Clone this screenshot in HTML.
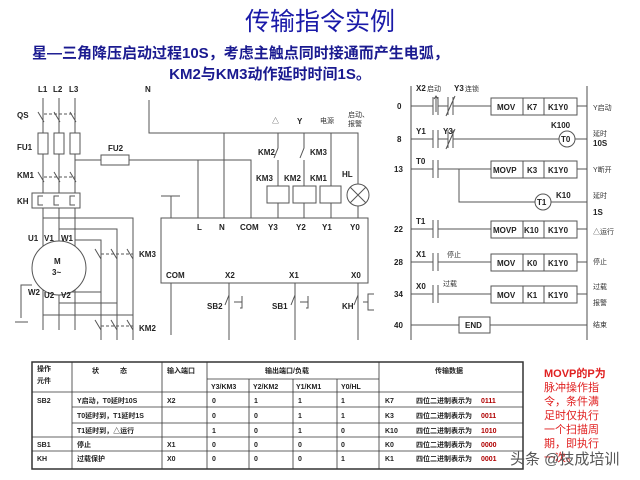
<!DOCTYPE html>
<html><head><meta charset="utf-8"><style>
html,body{margin:0;padding:0;background:#fff;}
svg{display:block;}
text{font-family:"Liberation Sans","Noto Sans CJK SC",sans-serif;}
</style></head><body>
<svg width="640" height="480" viewBox="0 0 640 480" xmlns="http://www.w3.org/2000/svg">
<rect width="640" height="480" fill="#fff"/>
<text x="320" y="30" font-size="25" fill="#1a1aa8" text-anchor="middle" font-family="Noto Serif CJK SC, serif">传输指令实例</text>
<text x="32" y="58" font-size="15" font-weight="bold" fill="#1a1a90">星—三角降压启动过程10S，考虑主触点同时接通而产生电弧，</text>
<text x="270" y="79" font-size="15" font-weight="bold" fill="#1a1a90" text-anchor="middle">KM2与KM3动作延时时间1S。</text>

<g stroke="#555" stroke-width="1" fill="none">
<path d="M43 98V330 M59 98V330 M75 98V330"/>
<path d="M38 112l6 10 M54 112l6 10 M70 112l6 10" />
<path d="M44 114H75" stroke-dasharray="3,2"/>
<rect x="38" y="133" width="10" height="21" fill="#fff"/>
<rect x="54" y="133" width="10" height="21" fill="#fff"/>
<rect x="70" y="133" width="10" height="21" fill="#fff"/>
<path d="M38 172l6 10 M54 172l6 10 M70 172l6 10"/>
<path d="M44 177H75" stroke-dasharray="3,2"/>
<rect x="32" y="193" width="48" height="15" fill="#fff"/>
<path d="M43 196h-5v9h5 M59 196h-5v9h5 M75 196h-5v9h5"/>
<path d="M149 100V133H358V184 M224 133V218 M331 133V186"/>
<path d="M75 160H251V218 M198 160V218"/>
<rect x="101" y="155" width="28" height="10" fill="#fff"/>
<path d="M161 196H180 M171 196V225 M165 225H177"/>
<path d="M43 218H133V340 M59 229H117V340 M75 240H101V340"/>
<path d="M95 249l6 10 M111 249l6 10 M127 249l6 10"/>
<path d="M101 254H133" stroke-dasharray="3,2"/>
<path d="M70 292H101 M59 303H117 M43 315H133" />
<path d="M95 320l6 10 M111 320l6 10 M127 320l6 10"/>
<path d="M101 326H133" stroke-dasharray="3,2"/>
<circle cx="59" cy="268" r="27" fill="#fff"/>
<path d="M32 285H21V318 M15 322H28"/>
<rect x="161" y="218" width="207" height="65" fill="#fff"/>
<path d="M171 283V335 M229 283V340 M295 283V340 M358 283V340"/>
<path d="M229 295l-4 10 M295 295l-4 10 M358 295l-4 10"/>
<path d="M234 302h8v-6 M242 302v6h-2 M300 302h8v-6 M308 302v6h-2"/>
<path d="M363 302h5v-8h6 M368 302v8h6"/>
<path d="M278 133V148l-4 10 M278 160V186 M304 133V148l-4 10 M304 160V186 M278 203V218 M304 203V218 M331 203V218 M358 206V218"/>
<rect x="267" y="186" width="22" height="17" fill="#fff"/>
<rect x="293" y="186" width="23" height="17" fill="#fff"/>
<rect x="320" y="186" width="21" height="17" fill="#fff"/>
<circle cx="358" cy="195" r="11" fill="#fff"/>
<path d="M350 187l16 16 M366 187l-16 16"/>
<path d="M411 86V340 M587 86V340" stroke="#888" stroke-width="1.5"/>
<path d="M411 106H433 M438 106H448 M453 106H491 M577 106H587 M411 139H433 M438 139H448 M453 139H560 M574 139H587 M411 169H433 M438 169H491 M577 169H587 M459 169V202H536 M550 202H587 M411 229H433 M438 229H491 M577 229H587 M411 262H433 M438 262H491 M577 262H587 M411 294H433 M438 294H491 M577 294H587 M411 325H459 M490 325H587"/>
<path d="M433 97V115 M438 97V115 M448 97V115 M453 97V115 M433 130V148 M438 130V148 M448 130V148 M453 130V148 M433 160V178 M438 160V178 M433 220V238 M438 220V238 M433 253V271 M438 253V271 M433 285V303 M438 285V303"/>
<path d="M446 116l9 -20 M446 149l9 -20 M436 112V96 M434 99l2-3 2 3"/>
<circle cx="567" cy="139" r="8" fill="#fff"/>
<circle cx="543" cy="202" r="8" fill="#fff"/>
<rect x="459" y="317" width="31" height="16" fill="#fff"/>
</g>
<g stroke="#555" stroke-width="1" fill="#fff">
<rect x="491" y="98" width="86" height="17"/><path d="M523 98V115 M544 98V115"/>
<rect x="491" y="161" width="86" height="17"/><path d="M523 161V178 M544 161V178"/>
<rect x="491" y="221" width="86" height="17"/><path d="M523 221V238 M544 221V238"/>
<rect x="491" y="254" width="86" height="17"/><path d="M523 254V271 M544 254V271"/>
<rect x="491" y="286" width="86" height="17"/><path d="M523 286V303 M544 286V303"/>
</g>
<g font-size="8" font-weight="bold" fill="#222">
<text x="38" y="92">L1</text><text x="53" y="92">L2</text><text x="69" y="92">L3</text><text x="145" y="92">N</text>
<text x="17" y="118">QS</text><text x="17" y="150">FU1</text><text x="17" y="178">KM1</text><text x="17" y="204">KH</text>
<text x="108" y="151">FU2</text>
<text x="28" y="241">U1</text><text x="44" y="241">V1</text><text x="61" y="241">W1</text>
<text x="28" y="295">W2</text><text x="44" y="298">U2</text><text x="61" y="298">V2</text>
<text x="54" y="264">M</text><text x="52" y="275">3~</text>
<text x="139" y="257">KM3</text><text x="139" y="331">KM2</text>
<text x="197" y="230">L</text><text x="219" y="230">N</text><text x="240" y="230">COM</text><text x="268" y="230">Y3</text><text x="296" y="230">Y2</text><text x="322" y="230">Y1</text><text x="350" y="230">Y0</text>
<text x="166" y="278">COM</text><text x="225" y="278">X2</text><text x="289" y="278">X1</text><text x="351" y="278">X0</text>
<text x="258" y="155">KM2</text><text x="310" y="155">KM3</text>
<text x="256" y="181">KM3</text><text x="284" y="181">KM2</text><text x="310" y="181">KM1</text><text x="342" y="177">HL</text>
<text x="297" y="124">Y</text>
<text x="207" y="309">SB2</text><text x="272" y="309">SB1</text><text x="342" y="309">KH</text>
<text x="397" y="109">0</text><text x="397" y="142">8</text><text x="394" y="172">13</text><text x="394" y="232">22</text><text x="394" y="265">28</text><text x="394" y="297">34</text><text x="394" y="328">40</text>
<text x="416" y="91">X2</text><text x="454" y="91">Y3</text><text x="416" y="134">Y1</text><text x="443" y="134">Y3</text>
<text x="416" y="164">T0</text><text x="416" y="224">T1</text><text x="416" y="257">X1</text><text x="416" y="289">X0</text>
<text x="497" y="110">MOV</text><text x="527" y="110">K7</text><text x="548" y="110">K1Y0</text>
<text x="493" y="173">MOVP</text><text x="527" y="173">K3</text><text x="548" y="173">K1Y0</text>
<text x="493" y="233">MOVP</text><text x="524" y="233">K10</text><text x="548" y="233">K1Y0</text>
<text x="497" y="266">MOV</text><text x="527" y="266">K0</text><text x="548" y="266">K1Y0</text>
<text x="497" y="298">MOV</text><text x="527" y="298">K1</text><text x="548" y="298">K1Y0</text>
<text x="561" y="142">T0</text><text x="537" y="205">T1</text><text x="551" y="128">K100</text><text x="556" y="198">K10</text>
<text x="465" y="328">END</text>
<text x="593" y="146">10S</text><text x="593" y="215">1S</text>
</g>
<g font-size="7" fill="#333">
<text x="272" y="123">△</text><text x="320" y="123">电源</text><text x="348" y="117">启动、</text><text x="348" y="126">报警</text>
<text x="427" y="91">启动</text><text x="465" y="91">连锁</text><text x="447" y="257">停止</text><text x="443" y="286">过载</text>
<text x="593" y="110">Y启动</text><text x="593" y="136">延时</text><text x="593" y="172">Y断开</text><text x="593" y="198">延时</text>
<text x="593" y="234">△运行</text><text x="593" y="264">停止</text><text x="593" y="289">过载</text><text x="593" y="305">报警</text><text x="593" y="327">结束</text>
</g>
<g stroke="#333" stroke-width="0.8" fill="none">
<rect x="32" y="362" width="491" height="107" stroke-width="1.5"/>
<path d="M32 392H523 M72 407H523 M72 423H523 M32 437H523 M32 451H523 M207 379H379"/>
<path d="M72 362V469 M162 362V469 M207 362V469 M379 362V469 M249 379V469 M293 379V469 M337 379V469"/>
</g>
<g font-size="7" font-weight="bold" fill="#222">
<text x="37" y="371">操作</text><text x="37" y="383">元件</text><text x="92" y="373">状　　　态</text><text x="167" y="373">输入端口</text><text x="265" y="373">输出端口/负载</text><text x="435" y="373">传输数据</text>
<text x="211" y="389">Y3/KM3</text><text x="253" y="389">Y2/KM2</text><text x="296" y="389">Y1/KM1</text><text x="341" y="389">Y0/HL</text>
<text x="37" y="403">SB2</text><text x="77" y="403">Y启动，T0延时10S</text><text x="167" y="403">X2</text>
<text x="77" y="418">T0延时到，T1延时1S</text><text x="77" y="433">T1延时到，△运行</text>
<text x="37" y="447">SB1</text><text x="77" y="447">停止</text><text x="167" y="447">X1</text>
<text x="37" y="461">KH</text><text x="77" y="461">过载保护</text><text x="167" y="461">X0</text>
<text x="212" y="403">0</text><text x="254" y="403">1</text><text x="298" y="403">1</text><text x="341" y="403">1</text>
<text x="212" y="418">0</text><text x="254" y="418">0</text><text x="298" y="418">1</text><text x="341" y="418">1</text>
<text x="212" y="433">1</text><text x="254" y="433">0</text><text x="298" y="433">1</text><text x="341" y="433">0</text>
<text x="212" y="447">0</text><text x="254" y="447">0</text><text x="298" y="447">0</text><text x="341" y="447">0</text>
<text x="212" y="461">0</text><text x="254" y="461">0</text><text x="298" y="461">0</text><text x="341" y="461">1</text>
<text x="385" y="403">K7</text><text x="385" y="418">K3</text><text x="385" y="433">K10</text><text x="385" y="447">K0</text><text x="385" y="461">K1</text>
<text x="416" y="403">四位二进制表示为</text><text x="416" y="418">四位二进制表示为</text><text x="416" y="433">四位二进制表示为</text><text x="416" y="447">四位二进制表示为</text><text x="416" y="461">四位二进制表示为</text>
<g fill="#b00000"><text x="481" y="403">0111</text><text x="481" y="418">0011</text><text x="481" y="433">1010</text><text x="481" y="447">0000</text><text x="481" y="461">0001</text></g>
</g>
<g font-size="11" fill="#e02020">
<text x="544" y="377" font-weight="bold">MOVP的P为</text>
<text x="544" y="391">脉冲操作指</text><text x="544" y="405">令，条件满</text><text x="544" y="419">足时仅执行</text><text x="544" y="433">一个扫描周</text><text x="544" y="447">期，即执行</text><text x="544" y="461">一次。</text>
</g>
<text x="510" y="464" font-size="15" fill="#555">头条 @技成培训</text>
</svg>
</body></html>
